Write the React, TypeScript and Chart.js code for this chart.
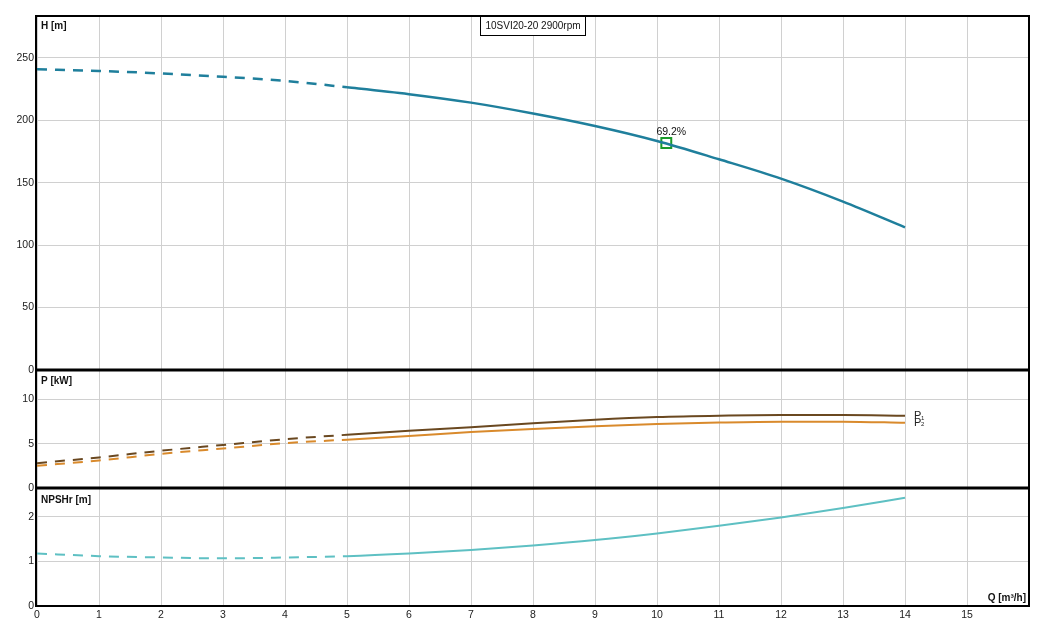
import React, { useEffect, useRef } from "react";
import { Chart, registerables } from "chart.js";

Chart.register(...registerables);

// ---- data ----
const FLOW = [0, 1, 2, 3, 4, 5, 6, 7, 8, 9, 10, 11, 12, 13, 14];
const HEAD = [241, 239.6, 237.6, 234.9, 231.6, 226.5, 221, 214.2, 205.5, 195.5, 183.5, 168.8, 153.3, 134.9, 114.3];
const POWER_P1 = [2.8, 3.45, 4.2, 4.85, 5.5, 6.0, 6.45, 6.85, 7.3, 7.7, 8.0, 8.15, 8.22, 8.22, 8.13];
const POWER_P2 = [2.5, 3.1, 3.85, 4.45, 5.05, 5.45, 5.85, 6.3, 6.65, 6.95, 7.2, 7.38, 7.48, 7.48, 7.35];
const NPSHR = [1.18, 1.12, 1.09, 1.07, 1.09, 1.12, 1.18, 1.26, 1.36, 1.48, 1.63, 1.8, 1.99, 2.2, 2.43];
const DASH_LIMIT = 5;

const EFF_Q = [10.15];
const EFF_H = [181.9];
const EFF_LABEL = "69.2%";

const X_TICKS = [0, 1, 2, 3, 4, 5, 6, 7, 8, 9, 10, 11, 12, 13, 14, 15];
const H_TICKS = [0, 50, 100, 150, 200, 250];
const P_TICKS = [0, 5, 10];
const N_TICKS = [0, 1, 2];

const TITLE = "10SVI20-20 2900rpm";
const H_TITLE = "H [m]";
const P_TITLE = "P [kW]";
const N_TITLE = "NPSHr [m]";
const Q_TITLE = "Q [m³/h]";

const FONT = '"Liberation Sans", Arial, sans-serif';

const pts = (ys: number[]) => FLOW.map((x, i) => ({ x, y: ys[i] }));
const dashSeg = {
  borderDash: (ctx: any) => (ctx.p0.parsed.x < DASH_LIMIT ? [10, 8] : []),
};

const decorPlugin = {
  id: "decor",
  afterDraw(chart: any) {
    const { ctx, chartArea } = chart;
    const yH = chart.scales.yH;
    const yP = chart.scales.yP;
    const yN = chart.scales.yN;
    ctx.save();
    // outer border
    ctx.strokeStyle = "#000";
    ctx.lineWidth = 2;
    ctx.strokeRect(chartArea.left - 1, chartArea.top, chartArea.right - chartArea.left + 1, chartArea.bottom - chartArea.top);
    // separators
    ctx.lineWidth = 3;
    [yP.top, yN.top].forEach((y: number) => {
      ctx.beginPath();
      ctx.moveTo(chartArea.left - 1, y);
      ctx.lineTo(chartArea.right, y);
      ctx.stroke();
    });
    // panel titles
    ctx.fillStyle = "#111";
    ctx.font = `bold 10px ${FONT}`;
    ctx.textAlign = "left";
    ctx.textBaseline = "top";
    ctx.fillText(H_TITLE, chartArea.left + 4, yH.top + 5);
    ctx.fillText(P_TITLE, chartArea.left + 4, yP.top + 6);
    ctx.fillText(N_TITLE, chartArea.left + 4, yN.top + 7);
    ctx.textAlign = "right";
    ctx.textBaseline = "bottom";
    ctx.fillText(Q_TITLE, chartArea.right - 3, chartArea.bottom - 3);
    // title box
    ctx.font = `10px ${FONT}`;
    const cx = (chartArea.left + chartArea.right) / 2;
    const tw = ctx.measureText(TITLE).width + 10;
    ctx.fillStyle = "#fff";
    ctx.fillRect(cx - tw / 2, chartArea.top, tw, 19);
    ctx.lineWidth = 1;
    ctx.strokeStyle = "#000";
    ctx.strokeRect(Math.round(cx - tw / 2) + 0.5, chartArea.top + 0.5, Math.round(tw), 19);
    ctx.fillStyle = "#111";
    ctx.textAlign = "center";
    ctx.textBaseline = "middle";
    ctx.fillText(TITLE, cx, chartArea.top + 10);
    // efficiency label
    const eff = chart.getDatasetMeta(4).data[0];
    if (eff) {
      ctx.font = `10.5px ${FONT}`;
      ctx.textBaseline = "bottom";
      ctx.fillText(EFF_LABEL, eff.x + 5, eff.y - 6);
    }
    // P1 / P2 labels
    [2, 3].forEach((di, k) => {
      const meta = chart.getDatasetMeta(di);
      const last = meta.data[meta.data.length - 1];
      if (!last) return;
      ctx.fillStyle = "#222";
      ctx.font = `11px ${FONT}`;
      ctx.textAlign = "left";
      ctx.textBaseline = "middle";
      ctx.fillText("P", last.x + 9, last.y);
      ctx.font = `6px ${FONT}`;
      ctx.fillText(String(k + 1), last.x + 16, last.y + 2);
    });
    ctx.restore();
  },
};

const fixAxis = (w?: number, h?: number) => (scale: any) => {
  if (w !== undefined) scale.width = w;
  if (h !== undefined) scale.height = h;
  scale.paddingTop = 0;
  scale.paddingBottom = 0;
  scale.paddingLeft = 0;
  scale.paddingRight = 0;
};

const setTicks = (vals: number[]) => (scale: any) => {
  scale.ticks = vals.map((v) => ({ value: v }));
};

export default function App() {
  const ref = useRef<HTMLCanvasElement>(null);
  useEffect(() => {
    if (!ref.current) return;
    const tickFont = { family: FONT, size: 10.5 };
    const grid = { color: "#d0d0d0", lineWidth: 1, drawTicks: false };
    const chart = new Chart(ref.current, {
      type: "line",
      data: {
        datasets: [
          {
            data: pts(HEAD),
            yAxisID: "yH",
            borderColor: "#1f7f9c",
            borderWidth: 2.5,
            pointRadius: 0,
            cubicInterpolationMode: "monotone",
            segment: dashSeg,
          } as any,
          {
            data: pts(NPSHR),
            yAxisID: "yN",
            borderColor: "#5ec0c3",
            borderWidth: 2,
            pointRadius: 0,
            cubicInterpolationMode: "monotone",
            segment: dashSeg,
          },
          {
            data: pts(POWER_P1),
            yAxisID: "yP",
            borderColor: "#6a4820",
            borderWidth: 2,
            pointRadius: 0,
            cubicInterpolationMode: "monotone",
            segment: dashSeg,
          },
          {
            data: pts(POWER_P2),
            yAxisID: "yP",
            borderColor: "#d98a2c",
            borderWidth: 2,
            pointRadius: 0,
            cubicInterpolationMode: "monotone",
            segment: dashSeg,
          },
          {
            data: EFF_Q.map((x, i) => ({ x, y: EFF_H[i] })),
            yAxisID: "yH",
            showLine: false,
            pointStyle: "rect",
            pointRadius: 7,
            pointBorderWidth: 2,
            pointBorderColor: "#1a9a2a",
            pointBackgroundColor: "rgba(0,0,0,0)",
          },
        ],
      },
      options: {
        animation: false,
        responsive: true,
        maintainAspectRatio: false,
        layout: { padding: { top: 16, right: 13, left: 0, bottom: 0 } },
        plugins: { legend: { display: false }, tooltip: { enabled: false } },
        events: [],
        scales: {
          x: {
            type: "linear",
            min: 0,
            max: 16,
            grid,
            border: { display: false },
            afterBuildTicks: setTicks(X_TICKS),
            afterFit: fixAxis(undefined, 22),
            ticks: { font: tickFont, color: "#222", padding: 3, maxRotation: 0, autoSkip: false },
          },
          yN: {
            type: "linear",
            position: "left",
            stack: "panels",
            stackWeight: 1,
            min: 0,
            max: 2.65,
            grid,
            border: { display: false },
            afterBuildTicks: setTicks(N_TICKS),
            afterFit: fixAxis(37),
            ticks: { font: tickFont, color: "#222", padding: 3 },
          },
          yP: {
            type: "linear",
            position: "left",
            stack: "panels",
            stackWeight: 1,
            min: 0,
            max: 13.3,
            grid,
            border: { display: false },
            afterBuildTicks: setTicks(P_TICKS),
            afterFit: fixAxis(37),
            ticks: { font: tickFont, color: "#222", padding: 3 },
          },
          yH: {
            type: "linear",
            position: "left",
            stack: "panels",
            stackWeight: 3,
            min: 0,
            max: 283.6,
            grid,
            border: { display: false },
            afterBuildTicks: setTicks(H_TICKS),
            afterFit: fixAxis(37),
            ticks: { font: tickFont, color: "#222", padding: 3 },
          },
        },
      } as any,
      plugins: [decorPlugin],
    });
    return () => chart.destroy();
  }, []);
  return (
    <div style={{ position: "absolute", left: 0, top: 0, width: 1042, height: 628, background: "#fff" }}>
      <canvas ref={ref} />
    </div>
  );
}
